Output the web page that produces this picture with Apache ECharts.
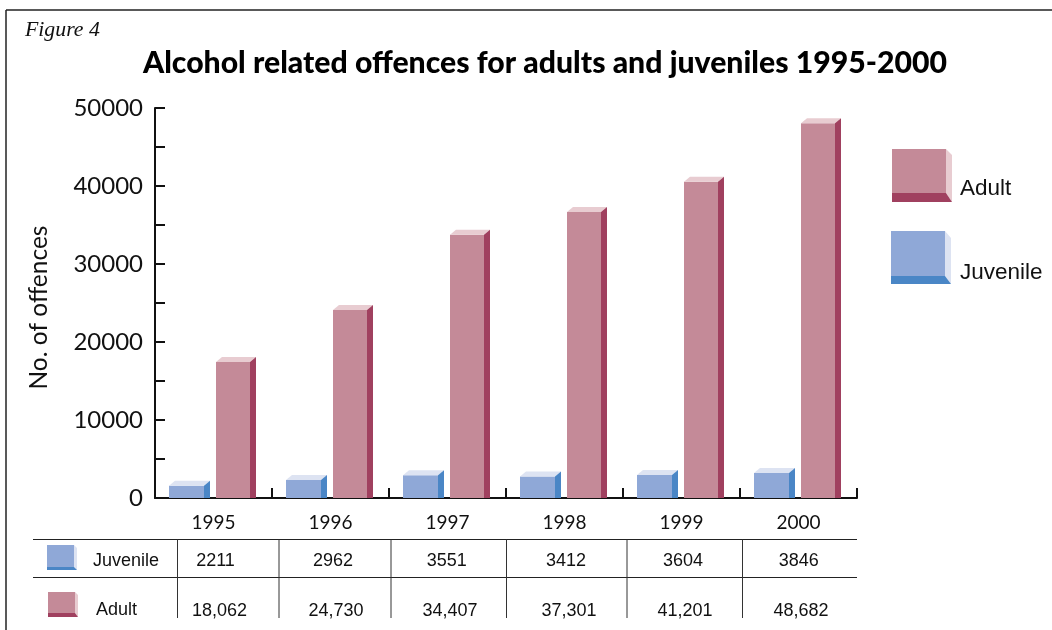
<!DOCTYPE html>
<html><head><meta charset="utf-8">
<style>html,body{margin:0;padding:0;background:#fff}#c{width:1052px;height:630px}</style>
<script src="https://cdn.jsdelivr.net/npm/echarts@6/dist/echarts.min.js"></script>
</head><body><div id="c"></div>
<script>
const years = ['1995','1996','1997','1998','1999','2000'];
const juvenile = [2211,2962,3551,3412,3604,3846];
const adult = [18062,24730,34407,37301,41201,48682];
const yTicks = [0,10000,20000,30000,40000,50000];

const adultCols = {front:'#C48A98', light:'#E8CCD1', dark:'#A0405F'};
const juvCols = {front:'#8FA8D7', light:'#DDE3F2', dark:'#4A86C6'};
const DX = 6, DY = 5;

function bar3d(cols, off0, off1){
  return function(params, api){
    const top = api.coord([api.value(0), api.value(1)]);
    const base = api.coord([api.value(0), 0]);
    const x0 = top[0]+off0, x1 = top[0]+off1, yBack = top[1], yF = top[1]+DY, yB = base[1];
    return {type:'group', children:[
      {type:'rect', shape:{x:x0,y:yF,width:x1-x0,height:yB-yF}, style:{fill:cols.front}},
      {type:'polygon', shape:{points:[[x0,yF],[x0+DX,yBack],[x1+DX,yBack],[x1,yF]]}, style:{fill:cols.light}},
      {type:'polygon', shape:{points:[[x1,yF],[x1+DX,yBack],[x1+DX,yB],[x1,yB]]}, style:{fill:cols.dark}}
    ]};
  };
}
function icon(x0,x1,y0,y1,yb,dx,dtop,cols){
  return [
    {type:'rect', shape:{x:x0,y:y0,width:x1-x0,height:y1-y0}, style:{fill:cols.front}},
    {type:'polygon', shape:{points:[[x1,y0],[x1+dx,y0+dtop],[x1+dx,yb],[x1,y1]]}, style:{fill:cols.light}},
    {type:'polygon', shape:{points:[[x0,y1],[x1,y1],[x1+dx,yb],[x0,yb]]}, style:{fill:cols.dark}}
  ];
}
function line(x1,y1,x2,y2,w,c){return {type:'line',shape:{x1,y1,x2,y2},style:{stroke:c||'#222',lineWidth:w||1}};}
function txt(s,x,y,font,align,fill){return {type:'text',x,y,style:{text:s,font,textAlign:align||'center',textVerticalAlign:'middle',fill:fill||'#111'}};}

const tableFont = '18px "Liberation Sans"';
const juvCenters = [215.5,333,446.7,566,683,798.7];
const adultCenters = [219.5,336,450,569,685,801];
const rules = [177.5,279,391,506.5,627,742.5];
const g = [
  line(6,10,1052,10,1.5,'#222'), line(6,10,6,630,1.5,'#222'),
  txt('Figure 4',25,30,'italic 21.8px "Liberation Serif"','left'),
  line(33,539.5,857,539.5), line(33,577.5,857,577.5),
  ...rules.map(x=>line(x,539.5,x,618,1,'#333')),
  txt('Juvenile',93,561.5,tableFont,'left'), txt('Adult',96,610.5,tableFont,'left'),
  ...juvenile.map((v,i)=>txt(String(v),juvCenters[i],561,tableFont)),
  ...adult.map((v,i)=>txt(v.toLocaleString('en-US'),adultCenters[i],611,tableFont)),
  ...icon(892,946,149,193,202,6,6,adultCols),
  ...icon(891,945,231,276,284,6,7,juvCols),
  ...icon(48,75,592,613,617,3,3,adultCols),
  ...icon(47,74,545,567,570,3,3,juvCols),
  txt('Adult',960,189,'22.5px "Liberation Sans"','left'),
  txt('Juvenile',960,272.5,'22.5px "Liberation Sans"','left')
];

const chart = echarts.init(document.getElementById('c'),null,{renderer:'canvas'});
chart.setOption({
  animation:false,
  backgroundColor:'#fff',
  title:{text:'Alcohol related offences for adults and juveniles 1995-2000',left:540,top:43,textAlign:'center',
    textStyle:{fontFamily:'Lato',fontWeight:900,fontSize:30.2,color:'#000'}},
  grid:{left:155,right:195,top:108,bottom:132,containLabel:false},
  xAxis:{type:'category',data:years,boundaryGap:true,
    axisLine:{lineStyle:{color:'#111',width:2}},
    axisTick:{show:true,inside:true,length:10,alignWithLabel:false,lineStyle:{color:'#111',width:2}},
    axisLabel:{fontFamily:'Lato',fontSize:19,color:'#111',margin:15}},
  yAxis:{type:'value',min:yTicks[0],max:yTicks[yTicks.length-1],interval:10000,
    name:'No. of offences',nameLocation:'middle',nameGap:103,nameRotate:90,
    nameTextStyle:{fontFamily:'Lato',fontSize:24.5,color:'#111',padding:[0,9,0,0]},
    axisLine:{show:true,lineStyle:{color:'#111',width:2}},
    axisTick:{show:true,inside:true,length:10,lineStyle:{color:'#111',width:2}},
    minorTick:{show:true,splitNumber:2,length:10,lineStyle:{color:'#111',width:2}},
    splitLine:{show:false},
    axisLabel:{fontFamily:'Lato',fontSize:24,color:'#111',margin:12,padding:[4,0,0,0],formatter:v=>String(v)}},
  graphic:g,
  series:[
    {name:'Juvenile',type:'custom',renderItem:bar3d(juvCols,-44.5,-9.5),encode:{x:0,y:1},
      data:juvenile.map((v,i)=>[i,v]),clip:false},
    {name:'Adult',type:'custom',renderItem:bar3d(adultCols,2.5,36.5),encode:{x:0,y:1},
      data:adult.map((v,i)=>[i,v]),clip:false}
  ]
});
</script></body></html>
